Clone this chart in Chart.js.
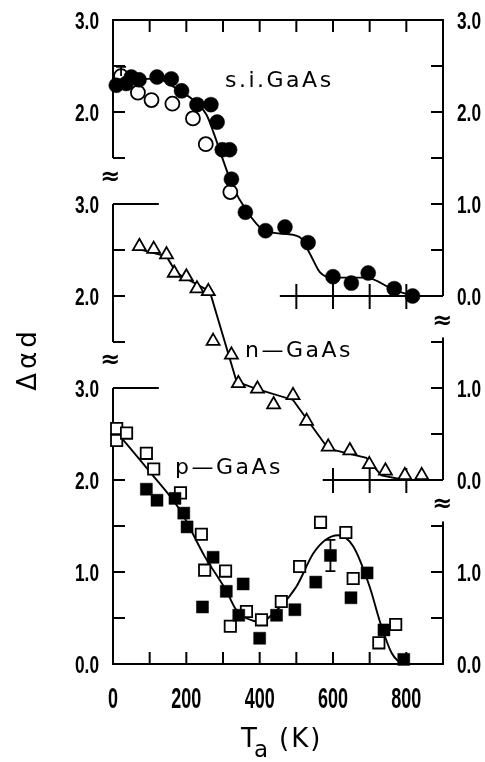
<!DOCTYPE html>
<html><head><meta charset="utf-8">
<script src="https://cdn.jsdelivr.net/npm/chart.js@4.4.0/dist/chart.umd.min.js"></script>
<style>html,body{margin:0;padding:0;background:#fff}#wrap{width:485px;height:762px}</style>
</head><body><div id="wrap"><canvas id="c" width="485" height="762"></canvas></div>
<script>
// ---------------- data ----------------
// s.i. GaAs
const siFilledT = [9,36,50,71,120,159,187,229,267,284,298,318,323,361,416,469,532,600,650,696,767,817];
const siFilledV = [2.29,2.31,2.38,2.35,2.38,2.36,2.23,2.08,2.08,1.89,1.59,1.59,1.27,0.91,0.71,0.75,0.58,0.21,0.14,0.25,0.08,0.0];
const siOpenT = [22,68,105,162,218,253,320];
const siOpenV = [2.39,2.21,2.13,2.09,1.93,1.65,1.13];
const siFitT = [47,120,182,219,255,273,300,327,364,409,455,509,537,564,600,691,764,818];
const siFitV = [2.36,2.36,2.23,2.13,1.97,1.79,1.48,1.19,0.93,0.72,0.68,0.64,0.46,0.26,0.20,0.20,0.07,0.0];
// n-GaAs
const nT = [72,111,146,167,200,229,260,273,323,342,394,438,491,528,587,646,699,743,796,842];
const nV = [2.54,2.51,2.45,2.25,2.21,2.08,2.05,1.51,1.36,1.05,0.99,0.82,0.92,0.64,0.36,0.32,0.17,0.10,0.05,0.05];
const nFitT = [59,146,173,209,264,337,391,491,587,691,732,796];
const nFitV = [2.52,2.43,2.25,2.17,2.05,1.07,0.99,0.87,0.34,0.24,0.05,0.0];
// p-GaAs
const pOpenT = [10,10,37,91,111,184,241,250,307,320,364,405,459,509,566,635,655,725,771];
const pOpenV = [2.56,2.43,2.51,2.29,2.12,1.86,1.41,1.02,1.01,0.41,0.57,0.48,0.68,1.06,1.54,1.43,0.93,0.23,0.43];
const pFilledT = [91,120,169,193,202,244,273,309,343,355,400,446,496,553,593,649,693,739,793];
const pFilledV = [1.90,1.78,1.80,1.64,1.49,0.62,1.16,0.79,0.53,0.87,0.28,0.53,0.59,0.89,1.18,0.72,0.99,0.37,0.05];
const pFitT = [8,100,183,250,310,336,401,455,500,546,580,614,655,700,728,760,785];
const pFitV = [2.53,2.09,1.67,1.17,0.79,0.59,0.46,0.62,0.84,1.20,1.35,1.40,1.28,0.84,0.46,0.12,0.0];
// error bars: [T, low, high]
const siErr = [[22,2.39,2.49]];
const pErr = [[593,1.01,1.35]];
// tick labels
const xTicks = [0,200,400,600,800];
const leftTickLabels  = ['0.0','1.0','2.0','3.0','2.0','3.0','2.0','3.0'];
const rightTickLabels = ['0.0','1.0','0.0','1.0','0.0','1.0','2.0','3.0'];

// ---------------- layout of the stacked panels ----------------
const OFF = {si:4, n:2, p:0};   // vertical offset of each panel on the shared scale
const pts = (T,V,off)=>T.map((t,i)=>({x:t,y:V[i]+off}));

const TICKFONT = "'Liberation Sans',Arial,sans-serif";
const SANS = "'DejaVu Sans','Liberation Sans',sans-serif";

const mk = (data, style, radius, fill, bw, order)=>({
  data, showLine:false, pointStyle:style, pointRadius:radius, pointHoverRadius:radius,
  backgroundColor: fill, borderColor:'#000', borderWidth:bw, clip:false, order
});
const fit = (data, tension)=>({
  data, showLine:true, pointRadius:0, borderColor:'#000', borderWidth:1.9, fill:false,
  tension, cubicInterpolationMode: tension>0 ? 'monotone':'default', clip:false, order:10
});

// draws condensed tick labels at the scale's own tick positions
function condensed(ctx, text, x, y, size, sx, align){
  ctx.save();
  ctx.translate(x, y); ctx.scale(sx, 1);
  ctx.font = "bold "+size+"px "+TICKFONT;
  ctx.textAlign = align; ctx.textBaseline = 'alphabetic';
  ctx.fillText(text, 0, 0);
  ctx.restore();
}

const frame = {
  id:'frame',
  beforeDatasetsDraw(chart){
    const {ctx, chartArea:a, scales:{x,y}} = chart;
    const X=v=>x.getPixelForValue(v), Y=v=>y.getPixelForValue(v);
    ctx.save();
    ctx.strokeStyle='#000'; ctx.lineWidth=2; ctx.lineCap='butt';
    const line=(x1,y1,x2,y2)=>{ctx.beginPath();ctx.moveTo(x1,y1);ctx.lineTo(x2,y2);ctx.stroke();};
    const TL=12;
    line(a.left-1,a.top,a.right+1,a.top);
    line(a.left-1,a.bottom,a.right+1,a.bottom);
    for(let t=100;t<=800;t+=100){ line(X(t),a.top,X(t),a.top+TL); line(X(t),a.bottom,X(t),a.bottom-TL); }
    // left axis segments
    [[5.5,7],[3.5,5],[0,3]].forEach(([lo,hi])=>{
      line(a.left,Y(lo),a.left,Y(hi));
      for(let v=lo;v<=hi+1e-9;v+=0.5) line(a.left,Y(v),a.left+TL,Y(v));
    });
    // long marks on the left at the panel tops
    [5,3].forEach(v=>line(a.left,Y(v),X(125),Y(v)));
    // right axis segments
    [[4,7],[2,3.55],[0,1.55]].forEach(([lo,hi])=>{
      line(a.right,Y(lo),a.right,Y(hi));
      for(let v=lo;v<=hi+1e-9;v+=0.5) line(a.right,Y(v),a.right-TL,Y(v));
    });
    // zero lines of upper panels
    [[OFF.si,455,[500,600,700,800]],[OFF.n,572,[600,700,800]]].forEach(([v,t0,tk])=>{
      line(X(t0),Y(v),a.right,Y(v));
      tk.forEach(t=>line(X(t),Y(v)-12,X(t),Y(v)+13));
    });
    // break marks
    ctx.fillStyle='#000'; ctx.font="bold 24px "+SANS; ctx.textAlign='center'; ctx.textBaseline='middle';
    [[a.left-3,5.28],[a.left-3,3.30],[a.right-1,3.72],[a.right-1,1.73]].forEach(([px,v])=>ctx.fillText('≈',px,Y(v)));
    ctx.restore();
  },
  afterDatasetsDraw(chart){
    const {ctx, chartArea:a, scales:{x,y,y2}} = chart;
    const X=v=>x.getPixelForValue(v), Y=v=>y.getPixelForValue(v);
    ctx.save(); ctx.strokeStyle='#000'; ctx.lineWidth=1.8;
    const eb=(arr,off)=>arr.forEach(([t,lo,hi])=>{
      ctx.beginPath(); ctx.moveTo(X(t),Y(lo+off)); ctx.lineTo(X(t),Y(hi+off));
      ctx.moveTo(X(t)-5,Y(hi+off)); ctx.lineTo(X(t)+5,Y(hi+off));
      if(off===0){ ctx.moveTo(X(t)-5,Y(lo+off)); ctx.lineTo(X(t)+5,Y(lo+off)); }
      ctx.stroke();
    });
    eb(siErr,OFF.si); eb(pErr,OFF.p);
    ctx.fillStyle='#000';
    // tick labels (condensed, at the scales' tick positions)
    y.ticks.forEach((tk,i)=>condensed(ctx, leftTickLabels[i], a.left-14, y.getPixelForValue(tk.value)+9, 24, 0.72, 'right'));
    y2.ticks.forEach((tk,i)=>condensed(ctx, rightTickLabels[i], a.right+14, y2.getPixelForValue(tk.value)+9, 24, 0.72, 'left'));
    x.ticks.forEach((tk,i)=>condensed(ctx, String(xTicks[i]), x.getPixelForValue(tk.value), a.bottom+44, 29, 0.62, 'center'));
    // panel labels
    ctx.textAlign='left'; ctx.textBaseline='alphabetic';
    ctx.font="22px "+SANS; ctx.letterSpacing='2.5px';
    ctx.fillText('s.i.GaAs',225,87);
    ctx.fillText('n—GaAs',245,357);
    ctx.fillText('p—GaAs',175,474);
    // axis titles
    ctx.letterSpacing='0px';
    ctx.font="26px "+SANS;
    ctx.fillText('T',241,747);
    ctx.font="23px "+SANS;
    ctx.fillText('a',254,757);
    ctx.font="26px "+SANS; ctx.letterSpacing='2px';
    ctx.fillText('(K)',279,747);
    ctx.translate(29,359); ctx.rotate(-Math.PI/2);
    ctx.font="26px "+SANS; ctx.letterSpacing='4px'; ctx.textAlign='center'; ctx.textBaseline='middle';
    ctx.fillText('Δαd',0,0);
    ctx.restore();
  }
};

new Chart(document.getElementById('c'), {
  type:'scatter',
  data:{ datasets:[
    fit(pts(siFitT,siFitV,OFF.si),0.4),
    fit(pts(nFitT,nFitV,OFF.n),0),
    fit(pts(pFitT,pFitV,OFF.p),0.4),
    mk(pts(siOpenT,siOpenV,OFF.si),'circle',7,'#fff',1.8,1),
    mk(pts(siFilledT,siFilledV,OFF.si),'circle',7.5,'#000',0.5,0),
    mk(pts(nT,nV,OFF.n),'triangle',7.5,'#fff',1.8,0),
    mk(pts(pOpenT,pOpenV,OFF.p),'rect',8,'#fff',1.8,1),
    mk(pts(pFilledT,pFilledV,OFF.p),'rect',8.5,'#000',0.5,0),
  ]},
  options:{
    responsive:false, devicePixelRatio:1, animation:false,
    layout:{padding:{top:20,left:0,right:0,bottom:0}},
    plugins:{legend:{display:false}, tooltip:{enabled:false}},
    scales:{
      x:{type:'linear', min:0, max:900, position:'bottom',
         grid:{display:false, drawTicks:false}, border:{display:false},
         afterBuildTicks:s=>{s.ticks=xTicks.map(v=>({value:v}));},
         afterFit:s=>{s.height=98;},
         ticks:{display:false}},
      y:{type:'linear', min:0, max:7, position:'left',
         grid:{display:false, drawTicks:false}, border:{display:false},
         afterBuildTicks:s=>{s.ticks=leftTickLabels.map((l,i)=>({value:i}));},
         afterFit:s=>{s.width=113;},
         ticks:{display:false}},
      y2:{type:'linear', min:0, max:7, position:'right',
         grid:{display:false, drawTicks:false}, border:{display:false},
         afterBuildTicks:s=>{s.ticks=rightTickLabels.map((l,i)=>({value:i}));},
         afterFit:s=>{s.width=42;},
         ticks:{display:false}}
    }
  },
  plugins:[frame]
});
</script></body></html>
